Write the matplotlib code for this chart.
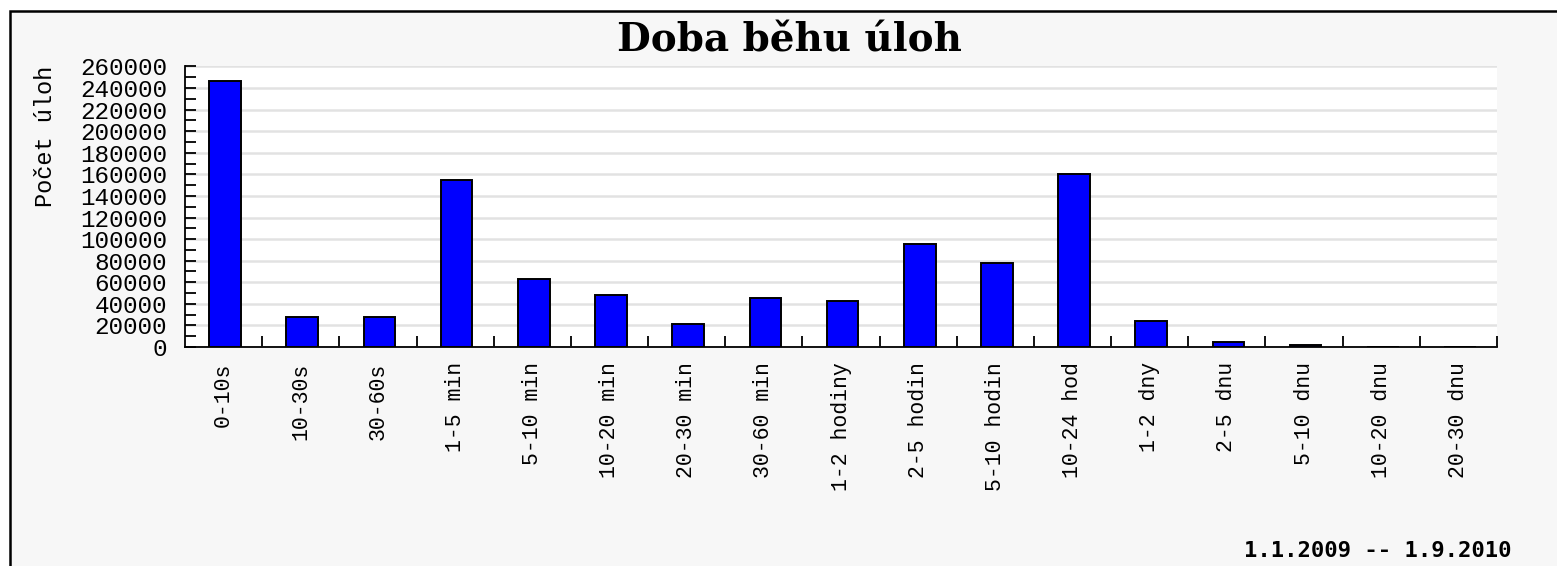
import matplotlib
matplotlib.use('Agg')
import matplotlib.pyplot as plt
from matplotlib.patches import Rectangle
import numpy as np

categories = ['0-10s', '10-30s', '30-60s', '1-5 min', '5-10 min', '10-20 min',
              '20-30 min', '30-60 min', '1-2 hodiny', '2-5 hodin', '5-10 hodin',
              '10-24 hod', '1-2 dny', '2-5 dnu', '5-10 dnu', '10-20 dnu', '20-30 dnu']
counts = [247000, 28000, 28000, 155000, 63000, 48500, 21500, 45000, 43000,
          95500, 78000, 160000, 24000, 5000, 1800, 0, 0]
y_ticks = list(range(0, 260001, 20000))

title = 'Doba běhu úloh'
y_title = 'Počet úloh'
period = '1.1.2009 -- 1.9.2010'

W, H = 1557, 566
fig = plt.figure(figsize=(W / 100, H / 100), dpi=100, facecolor='white')

# grey panel with black top/left border (right and bottom are cropped)
panel = Rectangle((10 / W, -0.1), 1.2, 1.1 - 11 / H, transform=fig.transFigure,
                  facecolor='#f7f7f7', edgecolor='black', linewidth=1.8, zorder=0)
fig.patches.append(panel)

ax = fig.add_axes([185 / W, (H - 347) / H, (1497 - 185) / W, (347 - 66.5) / H])
ax.set_zorder(2)
ax.set_facecolor('white')

x = np.arange(len(categories))
ax.bar(x + 0.02, counts, width=0.41, color='#0000ff', edgecolor='black', linewidth=1.4, zorder=3)

ax.set_xlim(-0.5, len(categories) - 0.5)
ax.set_ylim(0, 260000)

mono = 'Liberation Mono'
ax.set_yticks(y_ticks)
ax.set_yticklabels([str(v) for v in y_ticks], family=mono, fontsize=17.5)
ax.set_yticks(np.arange(10000, 260000, 20000), minor=True)
ax.set_xticks(x)
ax.set_xticklabels(categories, rotation=90, family=mono, fontsize=15.5)
ax.set_xticks(np.arange(0.5, len(categories), 1), minor=True)

ax.tick_params(axis='y', which='both', direction='in', length=8, width=1.3, pad=13)
ax.tick_params(axis='x', which='major', length=0, pad=11)
ax.tick_params(axis='x', which='minor', direction='in', length=8, width=1.3)

ax.grid(axis='y', which='major', color='#e2e2e2', linewidth=1.8, zorder=0)
ax.set_axisbelow(True)
for side in ['top', 'right']:
    ax.spines[side].set_visible(False)
for side in ['left', 'bottom']:
    ax.spines[side].set_linewidth(1.3)

fig.text(789 / W, 1 - 52 / H, title, ha='center', va='baseline',
         family='DejaVu Serif', fontweight='bold', fontsize=28)
fig.text(45 / W, 1 - 136 / H, y_title, ha='center', va='center', rotation=90,
         family=mono, fontsize=17)
fig.text(1512 / W, 1 - 557 / H, period, ha='right', va='baseline',
         family='DejaVu Sans Mono', fontweight='bold', fontsize=16)

fig.savefig('out.png', dpi=100, facecolor=fig.get_facecolor())
